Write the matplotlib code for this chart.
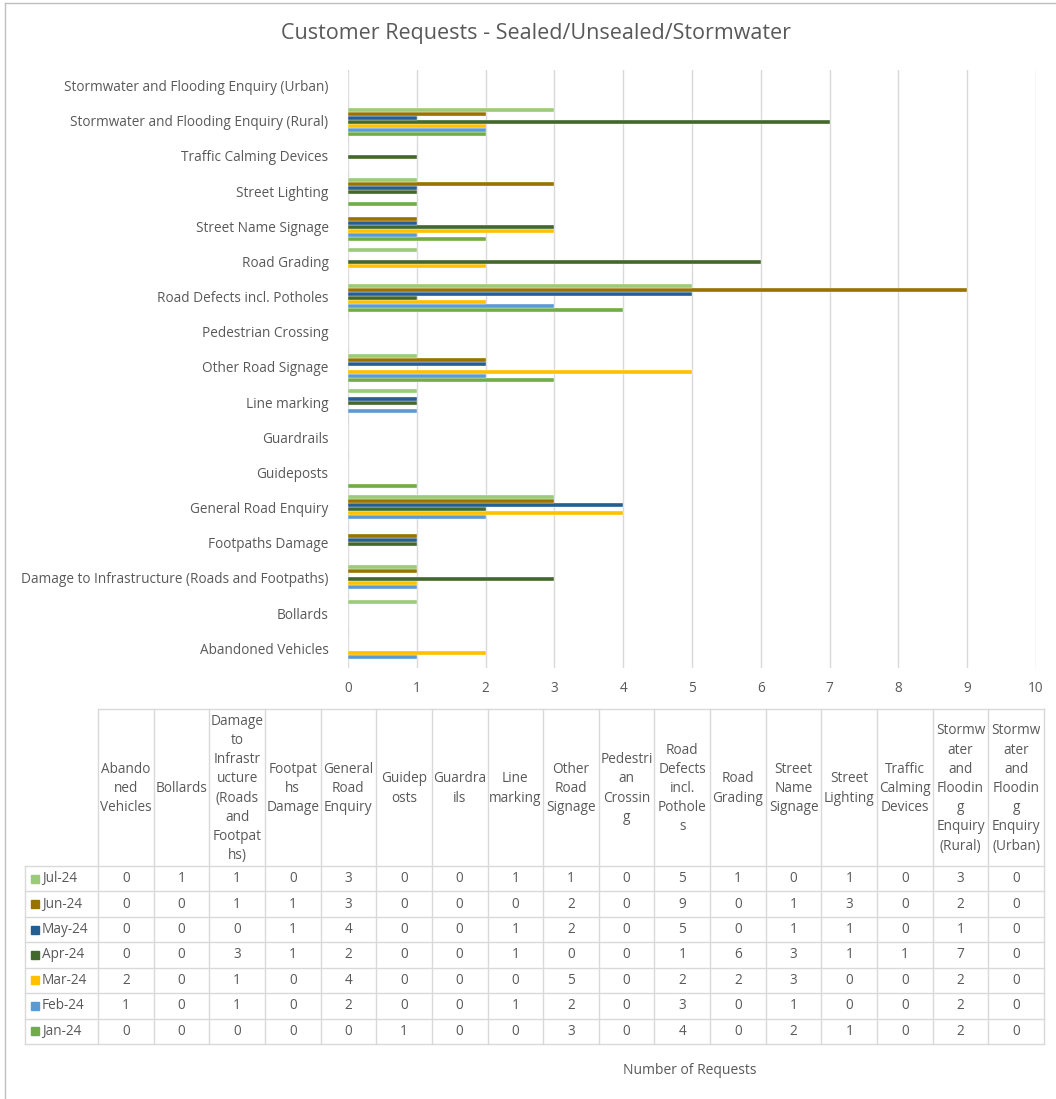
import numpy as np
import matplotlib
matplotlib.use("Agg")
import matplotlib.pyplot as plt

plt.rcParams['font.family'] = ['Open Sans', 'DejaVu Sans']

# categories, bottom to top as drawn on the axis
categories = [
    "Abandoned Vehicles", "Bollards", "Damage to Infrastructure (Roads and Footpaths)",
    "Footpaths Damage", "General Road Enquiry", "Guideposts", "Guardrails",
    "Line marking", "Other Road Signage", "Pedestrian Crossing",
    "Road Defects incl. Potholes", "Road Grading", "Street Name Signage",
    "Street Lighting", "Traffic Calming Devices",
    "Stormwater and Flooding Enquiry (Rural)", "Stormwater and Flooding Enquiry (Urban)",
]
# wrapped headers as they appear in the data table
table_headers = [
    "Abando\nned\nVehicles", "Bollards", "Damage\nto\nInfrastr\nucture\n(Roads\nand\nFootpat\nhs)",
    "Footpat\nhs\nDamage", "General\nRoad\nEnquiry", "Guidep\nosts", "Guardra\nils",
    "Line\nmarking", "Other\nRoad\nSignage", "Pedestri\nan\nCrossin\ng",
    "Road\nDefects\nincl.\nPothole\ns", "Road\nGrading", "Street\nName\nSignage",
    "Street\nLighting", "Traffic\nCalming\nDevices",
    "Stormw\nater\nand\nFloodin\ng\nEnquiry\n(Rural)", "Stormw\nater\nand\nFloodin\ng\nEnquiry\n(Urban)",
]

months = ["Jan-24", "Feb-24", "Mar-24", "Apr-24", "May-24", "Jun-24", "Jul-24"]
jan = [0, 0, 0, 0, 0, 1, 0, 0, 3, 0, 4, 0, 2, 1, 0, 2, 0]
feb = [1, 0, 1, 0, 2, 0, 0, 1, 2, 0, 3, 0, 1, 0, 0, 2, 0]
mar = [2, 0, 1, 0, 4, 0, 0, 0, 5, 0, 2, 2, 3, 0, 0, 2, 0]
apr = [0, 0, 3, 1, 2, 0, 0, 1, 0, 0, 1, 6, 3, 1, 1, 7, 0]
may = [0, 0, 0, 1, 4, 0, 0, 1, 2, 0, 5, 0, 1, 1, 0, 1, 0]
jun = [0, 0, 1, 1, 3, 0, 0, 0, 2, 0, 9, 0, 1, 3, 0, 2, 0]
jul = [0, 1, 1, 0, 3, 0, 0, 1, 1, 0, 5, 1, 0, 1, 0, 3, 0]
series = [jan, feb, mar, apr, may, jun, jul]
colors = ["#70AD47", "#5B9BD5", "#FFC000", "#43682B", "#255E91", "#997300", "#9BCB7A"]

TXT = "#595959"
GRID = "#D9D9D9"
W, H = 1056, 1099
FS = 9.8

fig = plt.figure(figsize=(W / 100, H / 100), dpi=100)

# ---- bar chart ----
ax = fig.add_axes([348 / W, 1 - 668 / H, (1036 - 348) / W, (668 - 70) / H])
y = np.arange(len(categories))
bh = 0.8 / len(series)
for i, (vals, c) in enumerate(zip(series, colors)):
    ax.barh(y + (i - 3) * bh + 0.03, vals, height=bh, color=c, edgecolor="white",
            linewidth=0.25, zorder=3)
ax.set_xlim(0, 10)
ax.set_ylim(-0.5, len(categories) - 0.5)
ax.set_xticks(range(11))
ax.set_yticks(y + 0.06)
ax.set_yticklabels(categories)
ax.tick_params(length=0, colors=TXT, labelsize=FS)
ax.tick_params(axis="y", pad=14)
ax.tick_params(axis="x", pad=9)
ax.grid(axis="x", color=GRID, linewidth=1, zorder=0)
for s in ax.spines.values():
    s.set_visible(False)

# ---- overlay for title, data table, frame ----
ov = fig.add_axes([0, 0, 1, 1], zorder=-1)
ov.set_xlim(0, W)
ov.set_ylim(H, 0)
ov.axis("off")

ov.plot([5, 5], [3, H], color="#BFBFBF", lw=1)
ov.plot([5, W], [3, 3], color="#BFBFBF", lw=1)

ov.text(536, 33, "Customer Requests - Sealed/Unsealed/Stormwater", ha="center",
        va="center", fontsize=15.5, color=TXT)

# table geometry
x0, xk = 25, 98
cw = (1044 - xk) / len(categories)
ytop, yhead = 709, 866
rh = (1044 - yhead) / len(months)
xs = [xk + k * cw for k in range(len(categories) + 1)]
ybot = yhead + rh * len(months)

# vertical lines
ov.plot([x0, x0], [yhead, ybot], color=GRID, lw=1)
for xv in xs:
    ov.plot([xv, xv], [ytop, ybot], color=GRID, lw=1)
# horizontal lines
ov.plot([xk, xs[-1]], [ytop, ytop], color=GRID, lw=1)
for r in range(len(months) + 1):
    yy = yhead + r * rh
    ov.plot([x0, xs[-1]], [yy, yy], color=GRID, lw=1)

for k, hdr in enumerate(table_headers):
    ov.text(xk + (k + 0.5) * cw, (ytop + yhead) / 2 + 1, hdr, ha="center", va="center",
            fontsize=FS, color=TXT, linespacing=1.38)

rows = list(zip(months, series, colors))[::-1]
for r, (m, vals, c) in enumerate(rows):
    yc = yhead + (r + 0.5) * rh
    ov.add_patch(plt.Rectangle((31, yc - 4), 8, 8, color=c))
    ov.text(42, yc, m, ha="left", va="center", fontsize=FS, color=TXT)
    for k, v in enumerate(vals):
        ov.text(xk + (k + 0.5) * cw, yc, str(v), ha="center", va="center",
                fontsize=FS, color=TXT)

ov.text(690, 1070, "Number of Requests", ha="center", va="center", fontsize=10, color=TXT)

fig.savefig("out.png", dpi=100)
